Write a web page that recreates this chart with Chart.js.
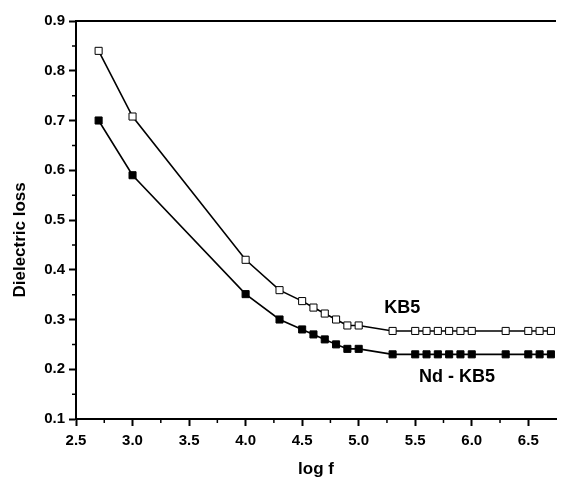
<!DOCTYPE html>
<html>
<head>
<meta charset="utf-8">
<script src="https://cdn.jsdelivr.net/npm/chart.js@4"></script>
<style>
  html, body { margin: 0; padding: 0; background: #fff; }
  #wrap { width: 562px; height: 481px; }
</style>
</head>
<body>
<div id="wrap"><canvas id="myChart"></canvas></div>
<script>
// log f values
const logF = [2.7, 3.0, 4.0, 4.3, 4.5, 4.6, 4.7, 4.8, 4.9, 5.0, 5.3, 5.5, 5.6, 5.7, 5.8, 5.9, 6.0, 6.3, 6.5, 6.6, 6.7];
// dielectric loss
const kb5 = [0.84, 0.708, 0.42, 0.359, 0.337, 0.324, 0.312, 0.300, 0.288, 0.288, 0.277, 0.277, 0.277, 0.277, 0.277, 0.277, 0.277, 0.277, 0.277, 0.277, 0.277];
const ndKb5 = [0.70, 0.59, 0.351, 0.30, 0.28, 0.27, 0.26, 0.25, 0.241, 0.241, 0.23, 0.23, 0.23, 0.23, 0.23, 0.23, 0.23, 0.23, 0.23, 0.23, 0.23];

const xTicks = [2.5, 3.0, 3.5, 4.0, 4.5, 5.0, 5.5, 6.0, 6.5];
const yTicks = [0.1, 0.2, 0.3, 0.4, 0.5, 0.6, 0.7, 0.8, 0.9];

const toPoints = (ys) => logF.map((x, i) => ({ x: x, y: ys[i] }));

const boldFont = (size) => ({ family: 'Liberation Sans, Arial, sans-serif', size: size, weight: 'bold' });

// minor ticks + top frame line + y title + series labels
const extras = {
  id: 'extras',
  afterDraw(chart) {
    const c = chart.ctx;
    const xs = chart.scales.x;
    const ys = chart.scales.y;
    const area = chart.chartArea;
    c.save();
    c.strokeStyle = '#000';
    c.lineWidth = 2;
    c.beginPath();
    c.moveTo(area.left - 1, area.top);
    c.lineTo(area.right, area.top);
    c.stroke();

    // minor ticks
    c.lineWidth = 1.5;
    c.beginPath();
    for (let i = 0; i < xTicks.length; i++) {
      const px = xs.getPixelForValue(xTicks[i] + 0.25);
      if (px > area.right) continue;
      c.moveTo(px, area.bottom);
      c.lineTo(px, area.bottom + 4);
    }
    for (let i = 0; i < yTicks.length - 1; i++) {
      const py = ys.getPixelForValue(yTicks[i] + 0.05);
      c.moveTo(area.left, py);
      c.lineTo(area.left - 4, py);
    }
    c.stroke();

    c.fillStyle = '#000';
    // y axis title, sits a bit below the axis middle like the original
    c.font = 'bold 17px "Liberation Sans", Arial, sans-serif';
    c.textAlign = 'center';
    c.textBaseline = 'middle';
    c.save();
    c.translate(20, ys.getPixelForValue(0.46));
    c.rotate(-Math.PI / 2);
    c.fillText('Dielectric loss', 0, 0);
    c.restore();

    c.font = 'bold 18px "Liberation Sans", Arial, sans-serif';
    c.textAlign = 'left';
    c.fillText('KB5', xs.getPixelForValue(5.225), ys.getPixelForValue(0.323));
    c.textAlign = 'center';
    c.fillText('Nd - KB5', xs.getPixelForValue(5.87), ys.getPixelForValue(0.184));
    c.restore();
  }
};

const data = {
  datasets: [{
    label: 'KB5',
    data: toPoints(kb5),
    showLine: true,
    borderColor: '#000',
    borderWidth: 1.6,
    pointStyle: 'rect',
    pointRadius: 5,
    pointBorderWidth: 1,
    pointBorderColor: '#000',
    pointBackgroundColor: '#fff'
  }, {
    label: 'Nd - KB5',
    data: toPoints(ndKb5),
    showLine: true,
    borderColor: '#000',
    borderWidth: 1.6,
    pointStyle: 'rect',
    pointRadius: 5,
    pointBorderWidth: 1,
    pointBorderColor: '#000',
    pointBackgroundColor: '#000'
  }]
};

const config = {
  type: 'scatter',
  data: data,
  plugins: [extras],
  options: {
    responsive: true,
    maintainAspectRatio: false,
    animation: false,
    layout: { padding: { left: 0, top: 21, right: 0, bottom: 0 } },
    plugins: {
      legend: { display: false },
      tooltip: { enabled: false }
    },
    scales: {
      x: {
        type: 'linear',
        min: 2.5,
        max: 6.745,
        afterBuildTicks: (scale) => { scale.ticks = xTicks.map(v => ({ value: v })); },
        afterFit: (scale) => { scale.height = 62; },
        border: { display: true, color: '#000', width: 2 },
        grid: { display: true, drawOnChartArea: false, drawTicks: true, tickLength: 7, tickColor: '#000', tickWidth: 2 },
        ticks: {
          color: '#000',
          font: boldFont(15),
          padding: 6,
          maxRotation: 0,
          callback: (v) => v.toFixed(1)
        },
        title: {
          display: true,
          text: 'log f',
          color: '#000',
          font: boldFont(17),
          padding: { top: 1, bottom: 1 }
        }
      },
      y: {
        type: 'linear',
        min: 0.1,
        max: 0.9,
        afterBuildTicks: (scale) => { scale.ticks = yTicks.map(v => ({ value: v })); },
        afterFit: (scale) => { scale.width = 76; },
        border: { display: true, color: '#000', width: 2 },
        grid: { display: true, drawOnChartArea: false, drawTicks: true, tickLength: 7, tickColor: '#000', tickWidth: 2 },
        ticks: {
          color: '#000',
          font: boldFont(15),
          padding: 4,
          callback: (v) => v.toFixed(1)
        }
      }
    }
  }
};

let myChart = new Chart(document.getElementById('myChart'), config);
</script>
</body>
</html>
